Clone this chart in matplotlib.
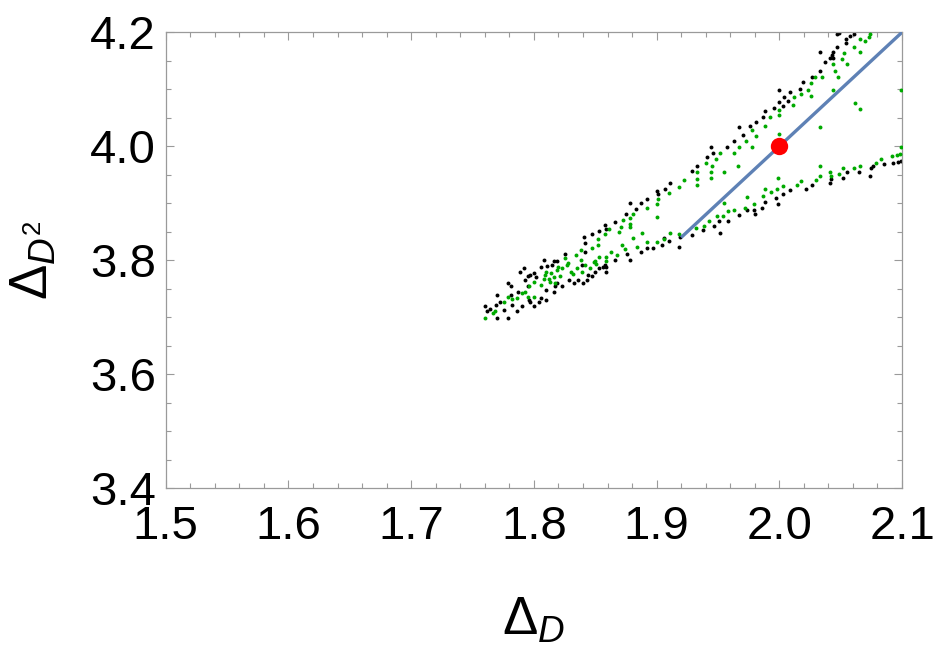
import matplotlib
matplotlib.use("Agg")
import matplotlib.pyplot as plt
from matplotlib.ticker import MultipleLocator, FixedLocator

plt.rcParams['font.family'] = ['Liberation Sans', 'DejaVu Sans']
plt.rcParams['mathtext.fontset'] = 'custom'
plt.rcParams['mathtext.rm'] = 'Liberation Sans'
plt.rcParams['mathtext.it'] = 'Liberation Sans:italic'
plt.rcParams['mathtext.bf'] = 'Liberation Sans:bold'

# ---- data ----
black_x = [1.760, 1.762, 1.764, 1.770, 1.769, 1.770, 1.772, 1.776, 1.779, 1.781,
           1.779, 1.781, 1.782, 1.786, 1.789, 1.792, 1.787, 1.790, 1.793, 1.795,
           1.797, 1.795, 1.796, 1.797, 1.800, 1.800, 1.802, 1.804, 1.806, 1.808,
           1.806, 1.810, 1.810, 1.811, 1.815, 1.816, 1.817, 1.816, 1.819, 1.819,
           1.823, 1.825, 1.829, 1.833, 1.836, 1.839, 1.840, 1.842,
           1.878, 1.887, 1.892, 1.883, 1.875, 1.866, 1.858, 1.859, 1.853, 1.847,
           1.841, 1.842, 1.876, 1.878, 1.866, 1.858, 1.856, 1.859, 1.853, 1.850,
           1.859, 1.844, 1.847, 1.843, 1.887, 1.892, 1.897, 1.904, 1.910, 1.906,
           1.919, 1.918,
           1.900, 1.901, 1.907, 1.911,
           1.981, 1.976, 1.967, 1.970, 1.963, 1.957, 1.944, 1.946, 1.941, 1.933,
           1.929, 2.009, 2.003, 1.997, 1.999, 1.988, 1.986, 1.979, 1.974, 1.980,
           1.967, 1.958, 1.951, 1.947, 1.952, 1.938, 1.929,
           2.000, 2.009, 2.004, 2.000, 2.007, 2.003, 1.996, 1.988, 1.987,
           2.047, 2.049, 2.058, 2.061, 2.054, 2.054, 2.047, 2.033, 2.044, 2.043,
           2.041, 2.044, 2.037, 2.033, 2.027, 2.019, 2.017,
           2.022, 2.027, 2.041, 2.042, 2.052, 2.055, 2.065, 2.074, 2.075, 2.076,
           2.085, 2.093, 2.097, 2.099]
black_y = [3.720, 3.711, 3.714, 3.739, 3.722, 3.699, 3.727, 3.713, 3.760, 3.754,
           3.699, 3.739, 3.722, 3.711, 3.780, 3.787, 3.745, 3.719, 3.765, 3.772,
           3.774, 3.754, 3.730, 3.726, 3.720, 3.778, 3.771, 3.727, 3.733, 3.801,
           3.789, 3.730, 3.748, 3.790, 3.792, 3.798, 3.754, 3.745, 3.799, 3.760,
           3.754, 3.811, 3.765, 3.760, 3.765, 3.792, 3.760, 3.815,
           3.900, 3.900, 3.908, 3.890, 3.882, 3.867, 3.861, 3.854, 3.851, 3.846,
           3.840, 3.830, 3.811, 3.801, 3.801, 3.792, 3.789, 3.789, 3.787, 3.780,
           3.779, 3.774, 3.773, 3.765, 3.815, 3.822, 3.822, 3.827, 3.834, 3.839,
           3.840, 3.823,
           3.922, 3.916, 3.925, 3.936,
           4.043, 4.036, 4.033, 4.020, 4.010, 3.999, 3.999, 3.989, 3.981, 3.965,
           3.957, 3.923, 3.916, 3.909, 3.899, 3.903, 3.892, 3.889, 3.889, 3.881,
           3.879, 3.869, 3.869, 3.860, 3.847, 3.853, 3.844,
           4.099, 4.095, 4.087, 4.078, 4.079, 4.071, 4.068, 4.062, 4.052,
           4.197, 4.198, 4.194, 4.197, 4.188, 4.181, 4.174, 4.166, 4.166, 4.160,
           4.154, 4.154, 4.147, 4.132, 4.122, 4.113, 4.100,
           3.925, 3.932, 3.935, 3.943, 3.945, 3.954, 3.955, 3.947, 3.961, 3.965,
           3.969, 3.971, 3.973, 3.974]

green_x = [1.760, 1.767, 1.768, 1.776, 1.779, 1.782, 1.786, 1.790, 1.793, 1.795,
           1.796, 1.800, 1.800, 1.806, 1.808, 1.809, 1.810, 1.812, 1.813, 1.814,
           1.816, 1.817, 1.819, 1.820, 1.821, 1.823, 1.825, 1.827, 1.828, 1.830,
           1.832, 1.834, 1.835, 1.838, 1.839,
           1.901, 1.900, 1.892, 1.881, 1.878, 1.873, 1.878, 1.878, 1.871, 1.869,
           1.861, 1.858, 1.852, 1.852, 1.847, 1.900, 1.888, 1.881, 1.872, 1.874,
           1.884, 1.892, 1.900, 1.906, 1.911, 1.918, 1.863, 1.868, 1.859, 1.853,
           1.859, 1.851, 1.850, 1.849, 1.842, 1.846, 1.838,
           1.910, 1.918, 1.922,
           1.988, 1.978, 1.981, 1.973, 1.978, 1.967, 1.963, 1.952, 1.948, 1.940,
           1.945, 1.966, 1.933, 1.944, 1.955, 1.933, 1.944, 1.933, 2.000, 1.999,
           2.003, 2.014, 1.998, 1.993, 1.988, 1.987, 1.974, 1.979, 1.972, 1.963,
           1.958, 1.955, 1.954, 1.949, 1.943, 1.939, 1.932,
           2.012, 2.011, 2.000, 2.000, 1.992,
           2.066, 2.070, 2.073, 2.074, 2.061, 2.053, 2.066, 2.051, 2.044, 2.055,
           2.045, 2.029, 2.035, 2.048, 2.026, 2.023, 2.018, 2.026, 2.044, 2.062,
           2.066, 2.033, 2.099,
           2.018, 2.030, 2.033, 2.033, 2.041, 2.042, 2.049, 2.052, 2.061, 2.066,
           2.079, 2.083, 2.092, 2.096, 2.098, 2.099]
green_y = [3.699, 3.707, 3.711, 3.727, 3.736, 3.732, 3.733, 3.742, 3.745, 3.736,
           3.754, 3.761, 3.736, 3.757, 3.767, 3.774, 3.780, 3.768, 3.762, 3.778,
           3.771, 3.760, 3.783, 3.789, 3.772, 3.786, 3.804, 3.792, 3.796, 3.780,
           3.776, 3.809, 3.786, 3.801, 3.780,
           3.908, 3.899, 3.892, 3.881, 3.875, 3.871, 3.863, 3.859, 3.859, 3.850,
           3.855, 3.846, 3.837, 3.827, 3.821, 3.876, 3.847, 3.839, 3.827, 3.820,
           3.824, 3.832, 3.832, 3.837, 3.847, 3.846, 3.815, 3.809, 3.806, 3.806,
           3.798, 3.793, 3.799, 3.797, 3.791, 3.787, 3.818,
           3.918, 3.929, 3.941,
           4.036, 4.029, 4.018, 4.009, 3.999, 3.999, 3.988, 3.988, 3.977, 3.970,
           3.965, 3.965, 3.954, 3.954, 3.954, 3.942, 3.944, 3.932, 4.021, 3.944,
           3.931, 3.932, 3.925, 3.919, 3.925, 3.912, 3.911, 3.899, 3.892, 3.888,
           3.886, 3.900, 3.878, 3.878, 3.869, 3.860, 3.857,
           4.087, 4.072, 4.064, 4.054, 4.051,
           4.188, 4.184, 4.192, 4.197, 4.174, 4.164, 4.165, 4.153, 4.144, 4.144,
           4.132, 4.122, 4.121, 4.121, 4.111, 4.099, 4.091, 4.088, 4.099, 4.076,
           4.065, 4.033, 4.099,
           3.939, 3.941, 3.947, 3.965, 3.955, 3.948, 3.951, 3.962, 3.961, 3.965,
           3.971, 3.978, 3.983, 3.985, 3.986, 3.999]

line_x = [1.92, 2.10]
line_y = [3.84, 4.20]
point_x = [2.0]
point_y = [4.0]

x_ticks = [1.5, 1.6, 1.7, 1.8, 1.9, 2.0, 2.1]
x_ticklabels = ['1.5', '1.6', '1.7', '1.8', '1.9', '2.0', '2.1']
y_ticks = [3.4, 3.6, 3.8, 4.0, 4.2]
y_ticklabels = ['3.4', '3.6', '3.8', '4.0', '4.2']

# ---- figure ----
fig = plt.figure(figsize=(9.41, 6.48), dpi=100)
ax = fig.add_axes([0.1761, 0.2465, 0.7825, 0.7037])

ax.scatter(black_x, black_y, s=8, color='black', linewidths=0, zorder=2)
ax.scatter(green_x, green_y, s=8, color='#00AA00', linewidths=0, zorder=3)
ax.plot(line_x, line_y, color='#5E81B5', lw=2.4, solid_capstyle='butt', zorder=4)
ax.plot(point_x, point_y, 'o', color='#FF0000', ms=12.5, mec='none', zorder=5)

ax.set_xlim(1.5, 2.1)
ax.set_ylim(3.4, 4.2)
ax.xaxis.set_major_locator(FixedLocator(x_ticks))
ax.set_xticklabels(x_ticklabels)
ax.yaxis.set_major_locator(FixedLocator(y_ticks))
ax.set_yticklabels(y_ticklabels)
ax.xaxis.set_minor_locator(MultipleLocator(0.02))
ax.yaxis.set_minor_locator(MultipleLocator(0.05))

for sp in ax.spines.values():
    sp.set_color('#9a9a9a')
    sp.set_linewidth(0.9)

ax.tick_params(which='both', direction='in', top=True, right=True,
               color='#9a9a9a', width=0.8)
ax.tick_params(which='major', length=6)
ax.tick_params(which='minor', length=3.5)
ax.tick_params(axis='x', which='major', labelsize=34, pad=12)
ax.tick_params(axis='y', which='major', labelsize=34, pad=7)

ax.set_xlabel(r'$\Delta_{\mathit{D}}$', fontsize=38)
ax.xaxis.set_label_coords(0.5, -0.235)
ax.set_ylabel(r'$\Delta_{\mathit{D}^{2}}$', fontsize=38)
ax.yaxis.set_label_coords(-0.145, 0.5)

fig.savefig('out.png', dpi=100)
